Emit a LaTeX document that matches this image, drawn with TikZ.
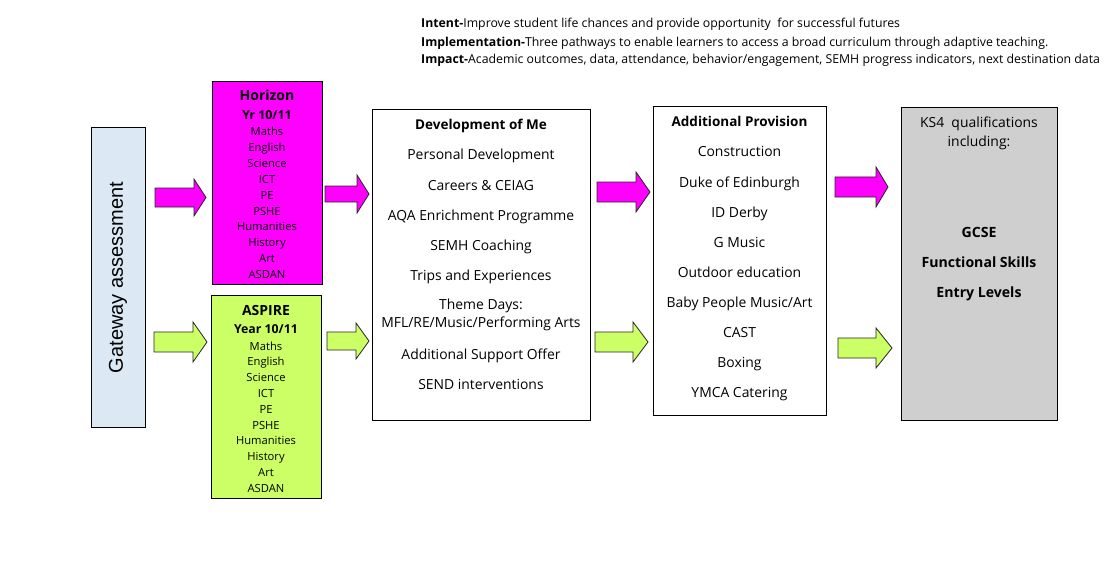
\documentclass[tikz,border=0pt]{standalone}
\usepackage{fontspec}
\setmainfont{Open Sans}
\newfontfamily\arialfont{Liberation Sans}
\definecolor{gatewayblue}{RGB}{220,233,245}
\definecolor{horizonpink}{RGB}{255,0,255}
\definecolor{aspirelime}{RGB}{204,255,102}
\definecolor{ksgrey}{RGB}{208,207,207}
\newcommand{\blockarrow}[7]{%
  \draw[arrowshape,fill=#1] (#2,{#5-#6}) -- (#3,{#5-#6}) -- (#3,{#5-#7}) -- (#4,#5)
    -- (#3,{#5+#7}) -- (#3,{#5+#6}) -- (#2,{#5+#6}) -- cycle;}
\tikzset{
  box/.style={draw,line width=1pt,rectangle,inner sep=0pt},
  arrowshape/.style={draw=black!85,line width=0.8pt},
  subj/.style={font=\fontsize{11.2}{11.2}\selectfont,inner sep=0pt,text height=8pt,text depth=0pt},
  item/.style={font=\fontsize{13.9}{13.9}\selectfont,inner sep=0pt,text height=10pt,text depth=0pt},
  bolditem/.style={font=\bfseries\fontsize{13.5}{13.5}\selectfont,inner sep=0pt,text height=10pt,text depth=0pt},
  head/.style={font=\fontsize{12.3}{12.3}\selectfont,inner sep=0pt,anchor=west,text height=8.8pt,text depth=0pt}
}
\begin{document}
\begin{tikzpicture}[x=1pt,y=-1pt]
  \useasboundingbox (0,0) rectangle (1114,583);
  % header
  \node[head] (intent) at (421,23) {\textbf{Intent-}Improve student life chances and provide opportunity\ \ for successful futures};
  \node[head] (implem) at (421,42) {\textbf{Implementation-}Three pathways to enable learners to access a broad curriculum through adaptive teaching.};
  \node[head] (impact) at (421,59) {\textbf{Impact-}Academic outcomes, data, attendance, behavior/engagement, SEMH progress indicators, next destination data};
  % boxes
  \node[box,fill=gatewayblue,minimum width=54,minimum height=299] (gateway) at (118,277.5) {};
  \node[rotate=90,font=\arialfont\fontsize{20}{20}\selectfont] (gatetext) at (gateway.center) {Gateway assessment};
  \node[box,fill=horizonpink,minimum width=110,minimum height=202] (horizon) at (267,183) {};
  \node[box,fill=aspirelime,minimum width=110,minimum height=203] (aspire) at (266,396.5) {};
  \node[box,minimum width=218,minimum height=310] (devme) at (481,265) {};
  \node[box,minimum width=173,minimum height=308] (addprov) at (739.5,261) {};
  \node[box,fill=ksgrey,minimum width=156,minimum height=312] (ks4) at (979,264) {};
  % pathway subjects
  \node[subj,font=\bfseries\fontsize{14}{14}\selectfont,text height=10pt] (htitle) at (267,96) {Horizon};
  \node[subj,font=\bfseries\fontsize{12.3}{12.3}\selectfont,text height=9pt] (hyear) at (267,115) {Yr 10/11};
  \node[subj,font=\bfseries\fontsize{14}{14}\selectfont,text height=10pt] (atitle) at (266,310) {ASPIRE};
  \node[subj,font=\bfseries\fontsize{12.3}{12.3}\selectfont,text height=9pt] (ayear) at (266,329) {Year 10/11};
  \foreach \t [count=\i] in {Maths,English,Science,ICT,PE,PSHE,Humanities,History,Art,ASDAN} {
    \node[subj] (h\i) at (267,{132+15.8*(\i-1)}) {\t};
    \node[subj] (a\i) at (266,{346+15.8*(\i-1)}) {\t};
  }
  % development of me
  \node[bolditem] (dtitle) at (481,125) {Development of Me};
  \foreach \y/\t [count=\i] in {155/{Personal Development},185/{Careers \& CEIAG},215/{AQA Enrichment Programme},
      245/{SEMH Coaching},275/{Trips and Experiences},304/{Theme Days:},322/{MFL/RE/Music/Performing Arts},
      354/{Additional Support Offer},384/{SEND interventions}}
    \node[item] (d\i) at (481,\y) {\t};
  % additional provision
  \node[bolditem] (ptitle) at (739.5,122) {Additional Provision};
  \foreach \t [count=\i] in {Construction,Duke of Edinburgh,ID Derby,G Music,Outdoor education,
      {Baby People Music/Art},CAST,Boxing,YMCA Catering}
    \node[item] (p\i) at (739.5,{152+30*(\i-1)}) {\t};
  % qualifications
  \node[item] (kq) at (979,123) {KS4\ \ qualifications};
  \node[item] (kinc) at (979,142) {including:};
  \node[bolditem,font=\bfseries\fontsize{14.1}{14.1}\selectfont] (kgcse) at (979,232) {GCSE};
  \node[bolditem,font=\bfseries\fontsize{14.1}{14.1}\selectfont] (kfunc) at (979,262) {Functional Skills};
  \node[bolditem,font=\bfseries\fontsize{14.1}{14.1}\selectfont] (kentry) at (979,292) {Entry Levels};
  % block arrows
  \blockarrow{horizonpink}{155}{194}{206}{197.5}{9.5}{18.5}
  \blockarrow{horizonpink}{325}{357}{369}{194}{8}{19}
  \blockarrow{horizonpink}{597}{636}{650}{192}{10}{20}
  \blockarrow{horizonpink}{835}{876}{888}{187}{10}{20}
  \blockarrow{aspirelime}{154}{193}{207}{342}{10}{20}
  \blockarrow{aspirelime}{327}{356}{369}{341}{9}{18}
  \blockarrow{aspirelime}{595}{633}{648}{342}{10}{20}
  \blockarrow{aspirelime}{838}{876}{892}{348}{10}{20}
\end{tikzpicture}
\end{document}
